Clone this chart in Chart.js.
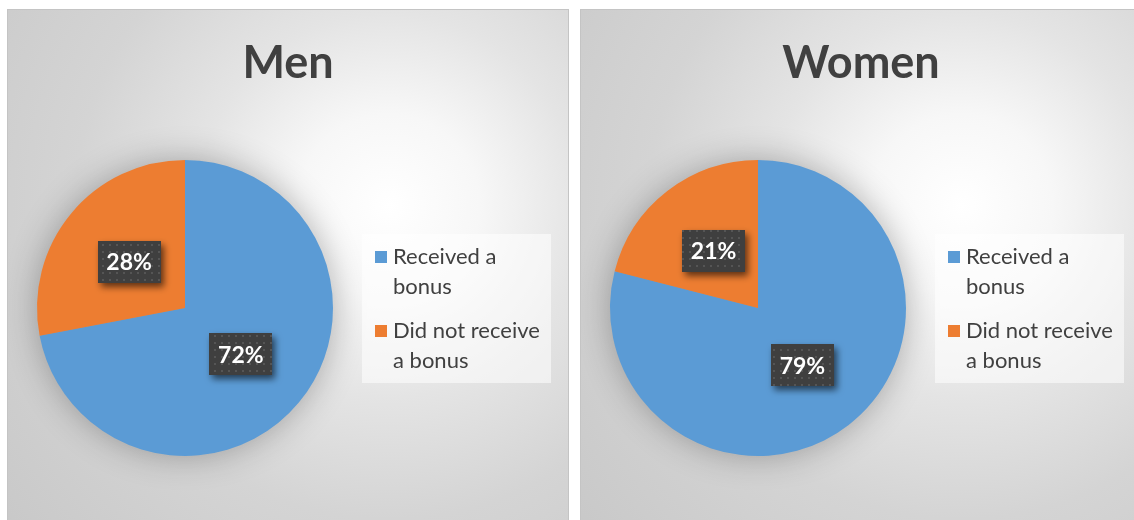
<!DOCTYPE html>
<html>
<head>
<meta charset="utf-8">
<script src="https://cdn.jsdelivr.net/npm/chart.js@4.4.1/dist/chart.umd.min.js"></script>
<style>
    html, body { margin: 0; padding: 0; background: #fff; width: 1134px; height: 520px; overflow: hidden; }
    .panel {
        position: absolute; top: 9px; width: 562px; height: 530px; box-sizing: border-box;
        border: 1px solid #c4c4c4;
        background: radial-gradient(circle farthest-corner at 68% 37%, #ffffff 0%, #f7f7f7 18%, #e4e4e4 38%, #d4d4d4 62%, #c8c8c8 100%);
    }
    #p1 { left: 7px; }
    #p2 { left: 580px; }
    .panel canvas { position: absolute; left: 0; top: 0; }
    .title {
        position: absolute; left: 0; right: 0; top: 24px; height: 50px; line-height: 50px;
        text-align: center; font: bold 45px Lato, sans-serif; color: #404040;
    }
    .legend {
        position: absolute; left: 354px; top: 224px; width: 189px; height: 149px;
        background: rgba(255, 255, 255, 0.55); box-sizing: border-box; padding-top: 7px;
    }
    .item { position: relative; padding-left: 31px; width: 155px; font: 22px Lato, sans-serif; line-height: 30px; color: #404040; margin-bottom: 14px; }
    .item span { position: absolute; left: 13px; top: 10px; width: 12px; height: 12px; }
</style>
</head>
<body>
<div class="panel" id="p1"><canvas id="chart-men" width="560" height="528"></canvas><div class="title" id="t1"></div><div class="legend" id="l1"></div></div>
<div class="panel" id="p2"><canvas id="chart-women" width="560" height="528"></canvas><div class="title" id="t2"></div><div class="legend" id="l2"></div></div>
<script>
// dados
var categorias = ['Received a bonus', 'Did not receive a bonus'];
var titulos = ['Men', 'Women'];
var valoresMen = [72, 28];
var valoresWomen = [79, 21];
var cores = ['#5B9BD5', '#ED7D31'];

// padrao pontilhado das caixas de rotulo
var pat = document.createElement('canvas');
pat.width = 7; pat.height = 7;
var pctx = pat.getContext('2d');
pctx.fillStyle = '#3f3f3f';
pctx.fillRect(0, 0, 7, 7);
pctx.fillStyle = '#555555';
pctx.fillRect(3, 3, 2, 2);

// sombra suave atras da pizza
var sombraPizza = {
    id: 'sombraPizza',
    beforeDatasetsDraw: function (chart) {
        var arc = chart.getDatasetMeta(0).data[0];
        if (!arc) return;
        var ctx = chart.ctx;
        ctx.save();
        ctx.shadowColor = 'rgba(0,0,0,0.3)';
        ctx.shadowBlur = 34;
        ctx.fillStyle = '#999';
        ctx.beginPath();
        ctx.arc(arc.x, arc.y, arc.outerRadius - 1, 0, Math.PI * 2);
        ctx.fill();
        ctx.restore();
    }
};

// rotulos de porcentagem
var rotulos = {
    id: 'rotulos',
    afterDatasetsDraw: function (chart) {
        var ctx = chart.ctx;
        var dados = chart.data.datasets[0].data;
        chart.getDatasetMeta(0).data.forEach(function (arc, i) {
            var ang = (arc.startAngle + arc.endAngle) / 2;
            var r = arc.outerRadius * 0.49;
            var x = arc.x + Math.cos(ang) * r;
            var y = arc.y + Math.sin(ang) * r;
            var w = 63, h = 42;
            ctx.save();
            ctx.shadowColor = 'rgba(0,0,0,0.6)';
            ctx.shadowBlur = 7;
            ctx.shadowOffsetX = 3;
            ctx.shadowOffsetY = 4;
            ctx.fillStyle = ctx.createPattern(pat, 'repeat');
            ctx.fillRect(Math.round(x - w / 2), Math.round(y - h / 2), w, h);
            ctx.restore();
            ctx.save();
            ctx.fillStyle = '#ffffff';
            ctx.font = 'bold 23px Lato, sans-serif';
            ctx.textAlign = 'center';
            ctx.textBaseline = 'middle';
            ctx.fillText(dados[i] + '%', x, y + 1);
            ctx.restore();
        });
    }
};

function drawChart(id, titulo, valores, tituloId, legendaId) {
    document.getElementById(tituloId).textContent = titulo;

    var leg = document.getElementById(legendaId);
    for (var i = 0; i < categorias.length; i++) {
        var item = document.createElement('div');
        item.className = 'item';
        var sq = document.createElement('span');
        sq.style.background = cores[i];
        item.appendChild(sq);
        item.appendChild(document.createTextNode(categorias[i]));
        leg.appendChild(item);
    }

    var config = {
        type: 'pie',
        data: {
            labels: categorias,
            datasets: [{
                data: valores,
                backgroundColor: cores,
                borderWidth: 0
            }]
        },
        options: {
            responsive: false,
            animation: false,
            layout: {
                padding: { left: 29, right: 235, top: 150, bottom: 82 }
            },
            plugins: {
                title: { display: false },
                legend: { display: false },
                tooltip: { enabled: false }
            }
        },
        plugins: [sombraPizza, rotulos]
    };

    return new Chart(document.getElementById(id), config);
}

var charts = [];
charts.push(drawChart('chart-men', titulos[0], valoresMen, 't1', 'l1'));
charts.push(drawChart('chart-women', titulos[1], valoresWomen, 't2', 'l2'));
</script>
</body>
</html>
